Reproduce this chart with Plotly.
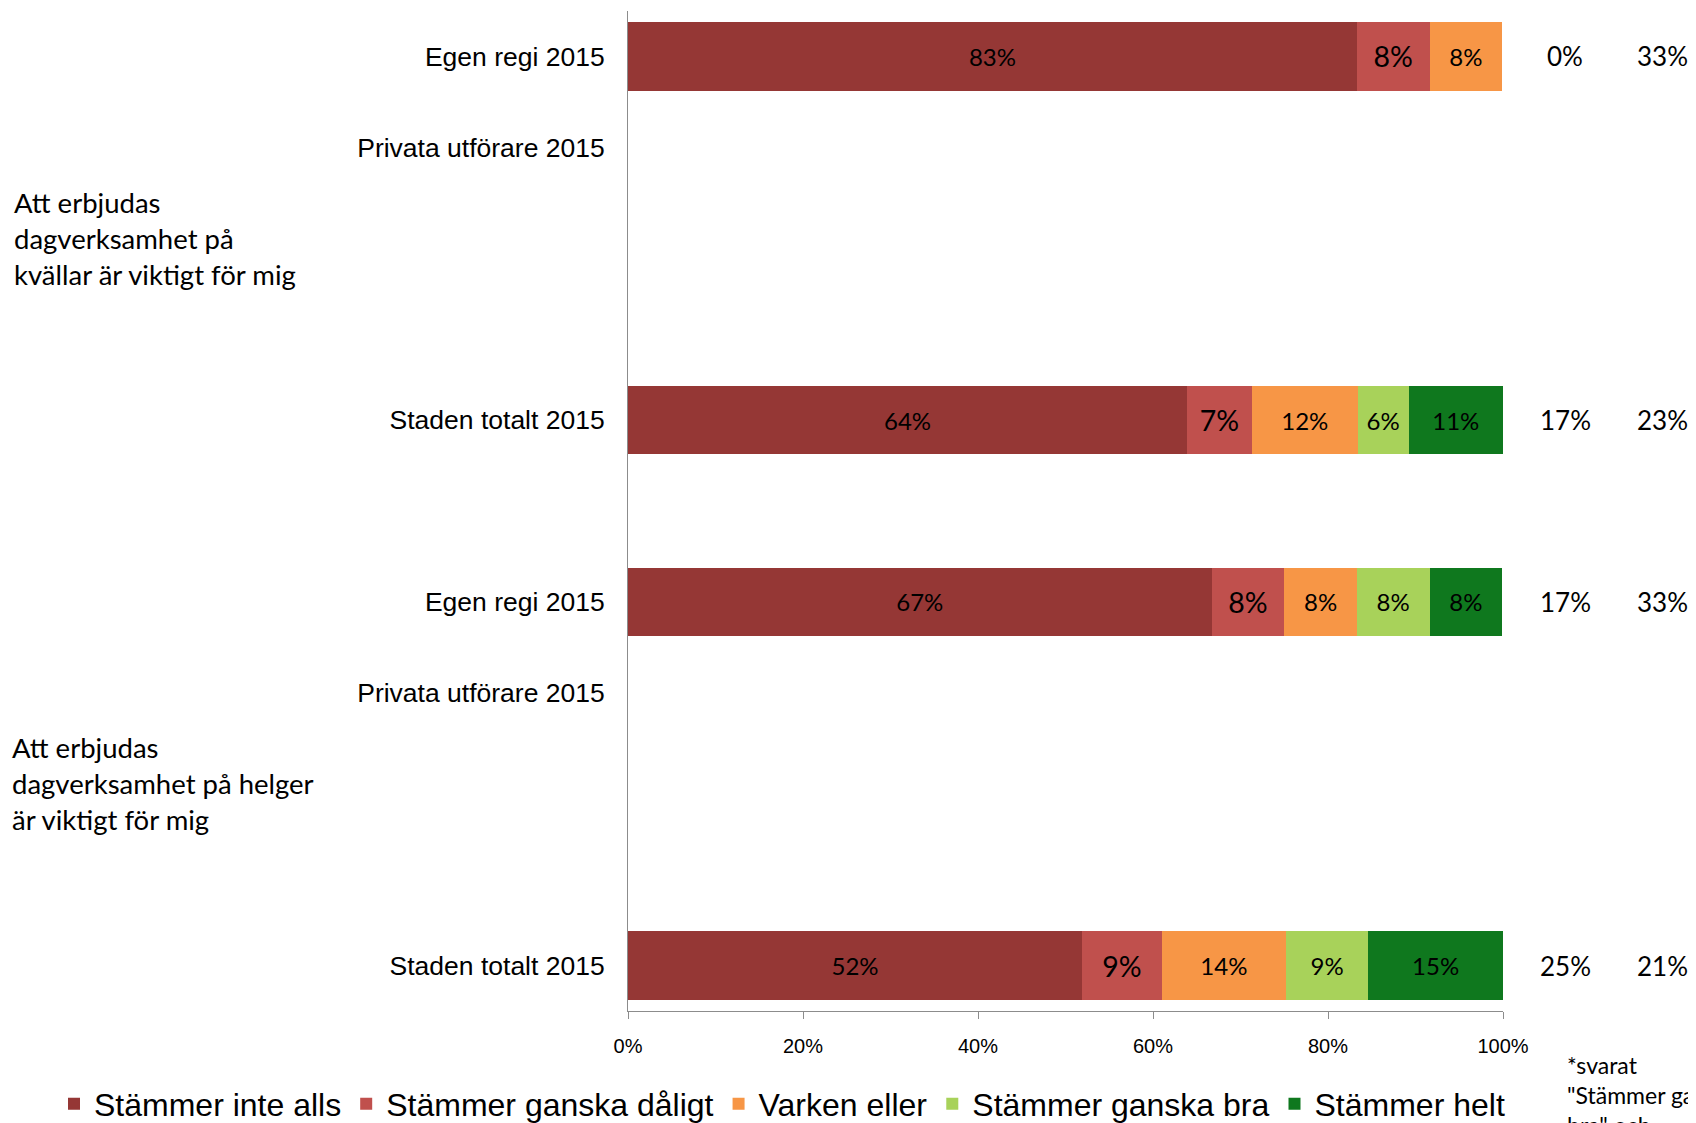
import plotly.graph_objs as go

# rows of the chart, top to bottom (empty strings are blank slots between groups)
row_labels = ['Egen regi 2015', 'Privata utförare 2015', '', '', 'Staden totalt 2015', '',
              'Egen regi 2015', 'Privata utförare 2015', '', '', 'Staden totalt 2015']

series_names = ['Stämmer inte alls', 'Stämmer ganska dåligt', 'Varken eller',
                'Stämmer ganska bra', 'Stämmer helt']
series_colors = ['#953735', '#C0504D', '#F79646', '#A8D25A', '#0F781E']

# values per row (percent), None = no answer / no bar
inte_alls = [83.3, None, None, None, 63.9, None, 66.7, None, None, None, 51.9]
ganska_daligt = [8.3, None, None, None, 7.4, None, 8.3, None, None, None, 9.1]
varken_eller = [8.3, None, None, None, 12.1, None, 8.3, None, None, None, 14.2]
ganska_bra = [None, None, None, None, 5.8, None, 8.3, None, None, None, 9.4]
helt = [None, None, None, None, 10.8, None, 8.3, None, None, None, 15.4]
all_series = [inte_alls, ganska_daligt, varken_eller, ganska_bra, helt]

# the two columns of figures to the right of the bars
bar_rows = [0, 4, 6, 10]
col_good = [0, 17, 17, 25]
col_other = [33, 23, 33, 21]

x_ticks = [0, 20, 40, 60, 80, 100]

groups = ['Att erbjudas<br>dagverksamhet på<br>kvällar är viktigt för mig',
          'Att erbjudas<br>dagverksamhet på helger<br>är viktigt för mig']
group_rows = [2, 8]
group_x = [-0.704, -0.706]

footnote = '*svarat<br>"Stämmer ganska<br>bra" och<br>"Stämmer helt"'

arial = 'Liberation Sans, Arial, sans-serif'
calibri = 'Lato, Calibri, sans-serif'

fig = go.Figure()
rows = list(range(len(row_labels)))
for i, name in enumerate(series_names):
    fig.add_trace(go.Bar(
        y=rows, x=all_series[i], name=name, orientation='h',
        marker=dict(color=series_colors[i], line=dict(width=0)),
        width=0.75,
        texttemplate='%{x:.0f}%', textposition='inside', insidetextanchor='middle',
        textfont=dict(family=calibri, size=28.5 if i == 1 else 24, color='black'),
        hoverinfo='x+name',
    ))

annotations = []
for r, a, b in zip(bar_rows, col_good, col_other):
    annotations.append(dict(x=1.071, y=r, xref='paper', yref='y', text='%d%%' % a,
                            showarrow=False, xanchor='center',
                            font=dict(family=calibri, size=26, color='black')))
    annotations.append(dict(x=1.182, y=r, xref='paper', yref='y', text='%d%%' % b,
                            showarrow=False, xanchor='center',
                            font=dict(family=calibri, size=26, color='black')))
for g, r, gx in zip(groups, group_rows, group_x):
    annotations.append(dict(x=gx, y=r, xref='paper', yref='y', text=g,
                            showarrow=False, xanchor='left', align='left',
                            font=dict(family=calibri, size=27.5, color='black')))
annotations.append(dict(x=1.071, y=-0.038, xref='paper', yref='paper', text=footnote,
                        showarrow=False, xanchor='left', yanchor='top', align='left',
                        font=dict(family=calibri, size=23, color='black')))

tick_rows = [r for r in rows if row_labels[r] != '']
# page body has an 8px margin, so the figure is 8px smaller and margins are shifted
fig.update_layout(
    barmode='stack',
    width=1688, height=1115,
    margin=dict(l=620, r=193, t=3, b=112, autoexpand=False),
    paper_bgcolor='white', plot_bgcolor='white',
    showlegend=True,
    legend=dict(orientation='h', x=-0.656, y=-0.093, xanchor='left', yanchor='middle',
                font=dict(family=arial, size=32, color='black'), traceorder='normal',
                itemwidth=30),
    xaxis=dict(range=[0, 100], tickvals=x_ticks, ticktext=['%d%%' % t for t in x_ticks],
               showgrid=False, zeroline=False, showline=True, linecolor='#8C8C8C',
               ticks='outside', ticklen=7, tickcolor='#8C8C8C', ticklabelstandoff=10,
               tickfont=dict(family=arial, size=20, color='black')),
    yaxis=dict(range=[10.5, -0.5], tickvals=tick_rows, ticktext=[row_labels[r] for r in tick_rows],
               showgrid=False, zeroline=False, showline=True, linecolor='#8C8C8C',
               ticks='', ticklabelstandoff=17,
               tickfont=dict(family=arial, size=26.5, color='black')),
    annotations=annotations,
)

fig.write_html('out.html')
